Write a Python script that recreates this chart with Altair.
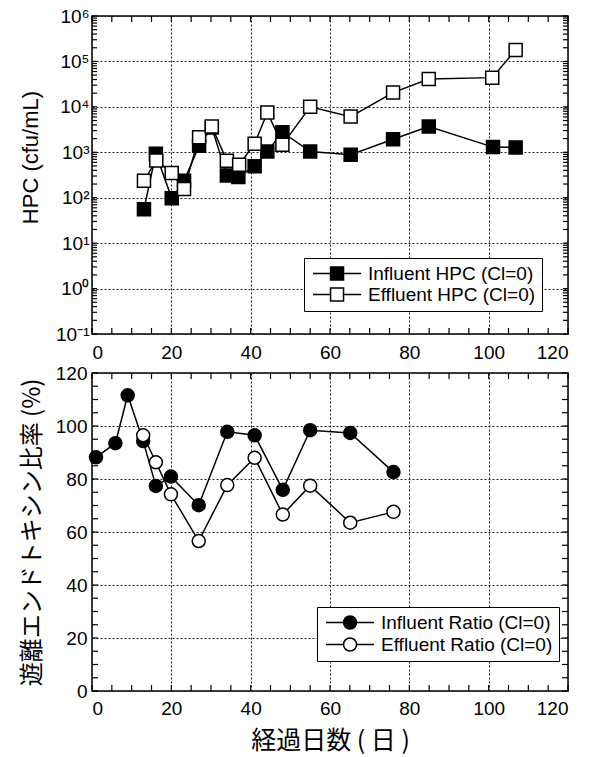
import json
import altair as alt
import pandas as pd

# ---------------- data ----------------
in_hpc_day = [13.1, 16.1, 20.1, 23.2, 27.0, 30.2, 34.0, 36.9, 41.0, 44.2, 48.0, 55.0, 65.2, 75.9, 84.9, 101.1, 106.8]
in_hpc = [56, 930, 97, 235, 1390, 3500, 310, 285, 490, 1040, 2770, 1040, 880, 1940, 3700, 1300, 1280]
ef_hpc_day = [13.1, 16.2, 20.1, 23.2, 27.0, 30.2, 34.0, 37.1, 41.0, 44.2, 48.0, 55.0, 65.2, 75.9, 84.9, 100.9, 106.8]
ef_hpc = [235, 660, 350, 155, 2150, 3700, 650, 530, 1550, 7500, 1460, 10000, 6100, 20600, 41000, 44000, 179000]

in_ratio_day = [1.0, 5.9, 9.0, 12.9, 16.1, 19.9, 26.9, 34.1, 41.0, 48.1, 55.0, 65.1, 76.0]
in_ratio = [88.2, 93.5, 111.6, 94.3, 77.4, 80.9, 70.1, 97.8, 96.5, 75.9, 98.4, 97.4, 82.6]
ef_ratio_day = [12.9, 16.1, 19.9, 26.9, 34.1, 41.0, 48.1, 55.0, 65.1, 76.0]
ef_ratio = [96.5, 86.3, 74.2, 56.6, 77.7, 88.0, 66.6, 77.5, 63.5, 67.6]

hpc_series = ["Influent HPC (Cl=0)", "Effluent HPC (Cl=0)"]
ratio_series = ["Influent Ratio (Cl=0)", "Effluent Ratio (Cl=0)"]

x_ticks = [0, 20, 40, 60, 80, 100, 120]
x_minor = list(range(0, 121, 5))
hpc_ticks = [0.1, 1, 10, 100, 1000, 10000, 100000, 1000000]
hpc_tick_labels = ["10⁻¹", "10⁰", "10¹", "10²", "10³", "10⁴", "10⁵", "10⁶"]
hpc_minor = [m * 10.0 ** e for e in range(-1, 6) for m in range(1, 10)] + [1e6]
ratio_ticks = [0, 20, 40, 60, 80, 100, 120]
ratio_minor = list(range(0, 121, 5))

x_title = "経過日数 ( 日 )"
hpc_title = "HPC (cfu/mL)"
ratio_title = "遊離エンドトキシン比率 (%)"

# ---------------- styling ----------------
W, H = 476, 318
FONT = "Liberation Sans"
JP = "Noto Sans CJK JP"

SQUARE_SYM = "M-1,0H1.7M3.7,0H6.4M1.7,-1H3.7V1H1.7Z"
CIRCLE_SYM = "M-1,0H1.7M3.7,0H6.4M1.7,0A1,1,0,1,0,3.7,0A1,1,0,1,0,1.7,0Z"


def inner_ticks(values, channel, scale, side, length):
    """Short frame ticks pointing into the plot, placed through the panel's scale."""
    rule = alt.Chart(pd.DataFrame({"day" if channel == "x" else "value": values})).mark_rule(
        color="black", strokeWidth=1.2)
    if channel == "x":
        y0, y1 = (H, H - length) if side == "bottom" else (0, length)
        return rule.encode(x=alt.X("day:Q", scale=scale),
                           y=alt.value(y0), y2=alt.value(y1))
    x0, x1 = (0, length) if side == "left" else (W, W - length)
    return rule.encode(y=alt.Y("value:Q", scale=scale),
                       x=alt.value(x0), x2=alt.value(x1))


def panel(df, series, shape, sym, yscale, ymain, yminor, ylen, xaxis_main, legend_x, legend_y):
    xscale = alt.Scale(domain=[0, 120], nice=False, zero=False)
    base = alt.Chart(df)
    lines = base.mark_line(color="black", strokeWidth=1.5).encode(
        x=alt.X("day:Q", scale=xscale, axis=xaxis_main),
        y=alt.Y("value:Q", scale=yscale, axis=ymain),
        detail=alt.Detail("series:N"),
    )
    pts = base.mark_point(shape=shape, filled=True, size=169, stroke="black",
                          strokeWidth=1.5, opacity=1).encode(
        x=alt.X("day:Q", scale=xscale),
        y=alt.Y("value:Q", scale=yscale),
        fill=alt.Fill("series:N",
                      scale=alt.Scale(domain=series, range=["black", "white"]),
                      legend=alt.Legend(title=None, orient="none",
                                        legendX=legend_x, legendY=legend_y,
                                        symbolType=sym, symbolSize=169,
                                        symbolStrokeColor="black",
                                        symbolStrokeWidth=1.5,
                                        labelFont=FONT, labelFontSize=19,
                                        labelColor="black", labelOffset=39,
                                        labelLimit=400,
                                        strokeColor="black", fillColor="white",
                                        padding=6, rowPadding=1)),
    )
    ticks = [
        inner_ticks(x_minor, "x", xscale, "bottom", 6),
        inner_ticks(x_minor, "x", xscale, "top", 6),
        inner_ticks(yminor, "y", yscale, "left", ylen),
        inner_ticks(yminor, "y", yscale, "right", ylen),
    ]
    return alt.layer(lines, *ticks, pts).properties(width=W, height=H)


grid = dict(grid=True, gridColor="#222", gridDash=[2, 2], gridWidth=1)

df_hpc = pd.DataFrame({
    "day": in_hpc_day + ef_hpc_day,
    "value": in_hpc + ef_hpc,
    "series": [hpc_series[0]] * len(in_hpc) + [hpc_series[1]] * len(ef_hpc),
})
df_ratio = pd.DataFrame({
    "day": in_ratio_day + ef_ratio_day,
    "value": in_ratio + ef_ratio,
    "series": [ratio_series[0]] * len(in_ratio) + [ratio_series[1]] * len(ef_ratio),
})

top = panel(
    df_hpc, hpc_series, "square", SQUARE_SYM,
    alt.Scale(type="log", domain=[0.1, 1e6], nice=False),
    alt.Axis(values=hpc_ticks, labelExpr=f"{json.dumps(hpc_tick_labels)}[round(log(datum.value)/LN10)+1]",
             ticks=False, domain=False, labelPadding=3, title=hpc_title,
             titleFont=FONT, titleFontSize=22, titleFontWeight="normal",
             titleX=-62, titleY=141, titleBaseline="middle", **grid),
    hpc_minor, 5,
    alt.Axis(values=x_ticks, ticks=False, domain=False, labelPadding=9, title=None, **grid),
    212, 242,
)

bottom = panel(
    df_ratio, ratio_series, "circle", CIRCLE_SYM,
    alt.Scale(domain=[0, 120], nice=False, zero=False),
    alt.Axis(values=ratio_ticks, ticks=False, domain=False, labelPadding=5, title=ratio_title,
             titleFont=JP, titleFontSize=24, titleFontWeight="normal",
             titleX=-60, titleBaseline="middle", **grid),
    ratio_minor, 6,
    alt.Axis(values=x_ticks, ticks=False, domain=False, labelPadding=8, title=x_title,
             titleFont=JP, titleFontSize=25, titleFontWeight="normal",
             titleY=49, titleBaseline="middle", **grid),
    225, 234,
)

chart = alt.vconcat(top, bottom, spacing=0).resolve_scale(
    fill="independent"
).resolve_legend(fill="independent").properties(
    padding={"left": 18, "top": 6, "right": 5, "bottom": 5}
).configure_view(stroke="black", strokeWidth=1.5).configure_axis(
    labelFont=FONT, labelFontSize=19, labelColor="black", titleColor="black"
)

chart.save("out.html", embed_options={"renderer": "svg", "actions": False})
